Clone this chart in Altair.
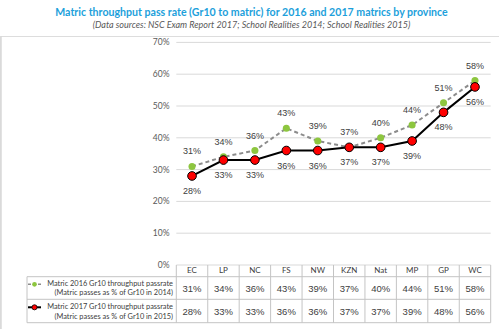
import altair as alt
import pandas as pd

# ---------------- data ----------------
provinces = ["EC", "LP", "NC", "FS", "NW", "KZN", "Nat", "MP", "GP", "WC"]
rate_2016 = [31, 34, 36, 43, 39, 37, 40, 44, 51, 58]
rate_2017 = [28, 33, 33, 36, 36, 37, 37, 39, 48, 56]
series_names = ["Matric 2016 Gr10 throughput passrate",
                "Matric 2017 Gr10 throughput passrate"]
series_notes = ["(Matric passes as % of Gr10 in 2014)",
                "(Matric passes as % of Gr10 in 2015)"]
y_ticks = [0, 10, 20, 30, 40, 50, 60, 70]

title_text = "Matric throughput pass rate (Gr10 to matric) for 2016 and 2017 matrics by province"
subtitle_text = "(Data sources: NSC Exam Report 2017; School Realities 2014; School Realities 2015)"

# ---------------- layout ----------------
W, H = 499, 329
TOP = 36            # room for the title
COL0, COLW = 176.3, 31.44   # left edge of first table column, column width
Y0, PPU = 265.0, 318.0      # pixel row of 0 %, pixels per 100 %


def ux(px):
    return (px - COL0) / COLW


def vy(py):
    return (Y0 - py) / PPU


xs = alt.Scale(domain=[ux(0), ux(W)], nice=False, zero=False)
ys = alt.Scale(domain=[vy(H), vy(TOP)], nice=False, zero=False)

GRID = "#d9d9d9"
TABLE = "#c4c4c4"
TXT = "#404040"
FONT = "Liberation Sans"
FONT2 = "Lato"

n = len(provinces)
df = pd.DataFrame({
    "prov": provinces,
    "u": [i + 0.5 for i in range(n)],
    "v16": [v / 100 for v in rate_2016],
    "v17": [v / 100 for v in rate_2017],
    "l16": [f"{v}%" for v in rate_2016],
    "l17": [f"{v}%" for v in rate_2017],
})

# gridlines and y tick labels
grid_df = pd.DataFrame({"y": [t / 100 for t in y_ticks], "x": 0.0, "x2": float(n),
                        "xl": ux(169.5), "lab": [f"{t}%" for t in y_ticks]})
grid = alt.Chart(grid_df).mark_rule(color=GRID, strokeWidth=1).encode(
    x=alt.X("x:Q", scale=xs, axis=None),
    x2="x2:Q",
    y=alt.Y("y:Q", scale=ys, axis=None),
)
ylabels = alt.Chart(grid_df).mark_text(align="right", fontSize=8.5, font=FONT2,
                                       color="#595959").encode(
    x=alt.X("xl:Q", scale=xs, axis=None),
    y=alt.Y("y:Q", scale=ys, axis=None), text="lab:N")

# left frame line
frame_df = pd.DataFrame({"x": [ux(1)], "y": [vy(TOP)], "y2": [vy(H)]})
frame = alt.Chart(frame_df).mark_rule(color="#d9d9d9", strokeWidth=1.5).encode(
    x=alt.X("x:Q", scale=xs, axis=None),
    y=alt.Y("y:Q", scale=ys, axis=None), y2="y2:Q")

# table lines
h_rows = [vy(276.7), vy(299.3), vy(322.7)]
hl_df = pd.DataFrame({"y": h_rows, "x": ux(27), "x2": float(n)})
hlines = alt.Chart(hl_df).mark_rule(color=TABLE, strokeWidth=1).encode(
    x=alt.X("x:Q", scale=xs, axis=None), x2="x2:Q",
    y=alt.Y("y:Q", scale=ys, axis=None))
vl_df = pd.DataFrame({
    "x": [float(k) for k in range(n + 1)] + [ux(27)],
    "y": [0.0] * (n + 1) + [vy(276.7)],
    "y2": [vy(322.7)] * (n + 2),
})
vlines = alt.Chart(vl_df).mark_rule(color=TABLE, strokeWidth=1).encode(
    x=alt.X("x:Q", scale=xs, axis=None),
    y=alt.Y("y:Q", scale=ys, axis=None), y2="y2:Q")

base = alt.Chart(df)
X = alt.X("u:Q", scale=xs, axis=None)

line16 = base.mark_line(color="#8c8c8c", strokeWidth=2, strokeDash=[4, 3]).encode(
    x=X, y=alt.Y("v16:Q", scale=ys, axis=None))
pts16 = base.mark_point(filled=True, shape="circle", color="#8dc63f", size=50,
                        opacity=1).encode(
    x=X, y=alt.Y("v16:Q", scale=ys, axis=None))
line17 = base.mark_line(color="#000000", strokeWidth=2).encode(
    x=X, y=alt.Y("v17:Q", scale=ys, axis=None))
pts17 = base.mark_point(filled=True, shape="circle", color="#ff0000", stroke="#000000",
                        strokeWidth=1, size=75, opacity=1).encode(
    x=X, y=alt.Y("v17:Q", scale=ys, axis=None))

lab16 = base.mark_text(dy=-15, fontSize=9, font=FONT, color=TXT).encode(
    x=X, y=alt.Y("v16:Q", scale=ys, axis=None), text="l16:N")
lab17 = base.mark_text(dy=15, fontSize=9, font=FONT, color=TXT).encode(
    x=X, y=alt.Y("v17:Q", scale=ys, axis=None), text="l17:N")

# table texts
df["yh"] = vy(270.9)
df["y1"] = vy(289.3)
df["y2"] = vy(312.3)
head = base.mark_text(fontSize=8, font=FONT2, color=TXT).encode(
    x=X, y=alt.Y("yh:Q", scale=ys, axis=None), text="prov:N")
row1 = base.mark_text(fontSize=9.5, font=FONT, color=TXT).encode(
    x=X, y=alt.Y("y1:Q", scale=ys, axis=None), text="l16:N")
row2 = base.mark_text(fontSize=9.5, font=FONT, color=TXT).encode(
    x=X, y=alt.Y("y2:Q", scale=ys, axis=None), text="l17:N")

leg_df = pd.DataFrame({
    "t": [series_names[0], series_notes[0], series_names[1], series_notes[1]],
    "y": [vy(284.3), vy(293.3), vy(307.3), vy(316.7)],
    "x": ux(173),
})
legtxt = alt.Chart(leg_df).mark_text(align="right", fontSize=7.4, font=FONT2,
                                     color=TXT).encode(
    x=alt.X("x:Q", scale=xs, axis=None), y=alt.Y("y:Q", scale=ys, axis=None), text="t:N")

sym_df = pd.DataFrame({"x": [ux(28)], "x2": [ux(41)], "xm": [ux(34.5)],
                       "ya": [vy(284.3)], "yb": [vy(307.3)]})
sym = alt.Chart(sym_df)
sym1 = sym.mark_rule(color="#8c8c8c", strokeWidth=1.5, strokeDash=[3, 2]).encode(
    x=alt.X("x:Q", scale=xs, axis=None), x2="x2:Q", y=alt.Y("ya:Q", scale=ys, axis=None))
sym1p = sym.mark_point(filled=True, shape="circle", color="#8dc63f", size=22,
                       opacity=1).encode(
    x=alt.X("xm:Q", scale=xs, axis=None), y=alt.Y("ya:Q", scale=ys, axis=None))
sym2 = sym.mark_rule(color="#000000", strokeWidth=2).encode(
    x=alt.X("x:Q", scale=xs, axis=None), x2="x2:Q", y=alt.Y("yb:Q", scale=ys, axis=None))
sym2p = sym.mark_point(filled=True, shape="circle", color="#ff0000", stroke="#000000",
                       strokeWidth=0.8, size=26, opacity=1).encode(
    x=alt.X("xm:Q", scale=xs, axis=None), y=alt.Y("yb:Q", scale=ys, axis=None))

chart = alt.layer(
    grid, ylabels, frame, hlines, vlines,
    line16, line17, pts16, pts17, lab16, lab17,
    head, row1, row2, legtxt, sym1, sym1p, sym2, sym2p,
).properties(
    width=W, height=H - TOP,
    autosize=alt.AutoSizeParams(type="none"),
    padding={"left": 0, "top": TOP, "right": 0, "bottom": 0},
    title=alt.TitleParams(
        text=title_text, subtitle=subtitle_text, anchor="middle",
        font=FONT2, fontSize=10.6, fontWeight="bold", color="#1d9fdb",
        subtitleFont=FONT2, subtitleFontSize=9, subtitleFontStyle="italic",
        subtitleColor="#595959", subtitlePadding=3, offset=5, dx=2),
).configure_view(stroke=None).configure(background="white")

chart.save("out.html", embed_options={"renderer": "svg", "actions": False})
